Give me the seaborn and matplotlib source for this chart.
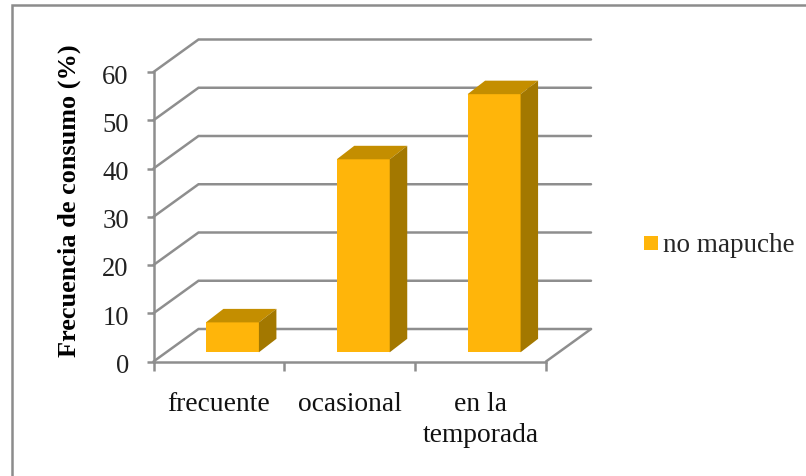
import matplotlib
matplotlib.use("Agg")
import matplotlib.pyplot as plt
from matplotlib.lines import Line2D
from matplotlib.patches import Polygon
from matplotlib.transforms import ScaledTranslation
import pandas as pd
import seaborn as sns

categories = ["frecuente", "ocasional", "en la\ntemporada"]
values = [6.2, 40.0, 53.5]
series_name = "no mapuche"
y_ticks = [0, 10, 20, 30, 40, 50, 60]
y_label = "Frecuencia de consumo (%)"

FRONT = "#FFB50A"
TOP = "#C48E00"
SIDE = "#A37800"
GRID = "#8E8E8E"
FRAME = "#8C8C8C"

W, H = 806, 476
sns.set_theme(style="white")
plt.rcParams["font.family"] = ["Liberation Serif", "DejaVu Serif"]

fig = plt.figure(figsize=(W / 100, H / 100), dpi=100, facecolor="white")
ax = fig.add_axes([153.5 / W, 1 - 361.5 / H, 392.5 / W, 289.5 / H])

df = pd.DataFrame({"categoria": categories, "frecuencia": values, "serie": series_name})
sns.barplot(
    data=df, x="categoria", y="frecuencia", hue="serie", palette=[FRONT],
    width=0.405, dodge=False, saturation=1, linewidth=0, ax=ax, zorder=5,
)
ax.set_xlim(-0.5, 2.5)
ax.set_ylim(0, 60)

# Depth of the floor and back wall, in data units
unit_x = 392.5 / 3
unit_y = 289.5 / 60
wall_dx = 45 / unit_x
wall_dy = 32.5 / unit_y

# Back wall gridlines with their receding segments
for t in y_ticks:
    ax.plot([-0.5, -0.5 + wall_dx, 2.5 + wall_dx], [t, t + wall_dy, t + wall_dy],
            color=GRID, lw=1.8, clip_on=False, zorder=1, solid_joinstyle="miter")
ax.plot([2.5, 2.5 + wall_dx], [0, wall_dy], color=GRID, lw=1.8, clip_on=False, zorder=1)

# Lift each bar off the front edge and add its top and side faces
offset_x = 13.5 / unit_x
offset_y = 9.2 / unit_y
bar_dx = 17.5 / unit_x
bar_dy = 13.5 / unit_y
for patch in ax.patches:
    patch.set_x(patch.get_x() + offset_x)
    patch.set_y(offset_y)
    patch.set_clip_on(False)
    x0 = patch.get_x()
    x1 = x0 + patch.get_width()
    y1 = offset_y + patch.get_height()
    ax.add_patch(Polygon([(x0, y1), (x1, y1), (x1 + bar_dx, y1 + bar_dy), (x0 + bar_dx, y1 + bar_dy)],
                         closed=True, facecolor=TOP, edgecolor="none", clip_on=False, zorder=5))
    ax.add_patch(Polygon([(x1, offset_y), (x1, y1), (x1 + bar_dx, y1 + bar_dy), (x1 + bar_dx, offset_y + bar_dy)],
                         closed=True, facecolor=SIDE, edgecolor="none", clip_on=False, zorder=5))

sns.despine(ax=ax, top=True, right=True)
for side in ("left", "bottom"):
    ax.spines[side].set_color(GRID)
    ax.spines[side].set_linewidth(1.8)

ax.set_xticks([-0.5, 0.5, 1.5, 2.5], labels=[])
ax.set_xticks([0, 1, 2], labels=categories, minor=True)
ax.set_yticks(y_ticks)
ax.tick_params(axis="x", which="major", length=6.5, width=1.8, color=GRID, bottom=True)
ax.tick_params(axis="x", which="minor", length=0, pad=22, labelsize=19.8, labelcolor="#111111")
ax.tick_params(axis="y", length=5, width=1.8, color=GRID, left=True, pad=12.8, labelsize=19.2, labelcolor="#222222")
for label in ax.get_xticklabels(minor=True):
    label.set_linespacing(1.3)

# Nudge the value labels down so they sit level with their ticks
nudge = ScaledTranslation(0, -2 / 100, fig.dpi_scale_trans)
for label in ax.get_yticklabels():
    label.set_transform(label.get_transform() + nudge)

ax.set_xlabel("")
ax.set_ylabel(y_label, fontsize=18.9, fontweight="bold", color="black")
ax.yaxis.set_label_coords(81 / W, 1 - 200.5 / H, transform=fig.transFigure)

# Legend on the right of the plot
sns.move_legend(
    ax, "center left", bbox_to_anchor=(644 / W, 1 - 246 / H),
    bbox_transform=fig.transFigure, title=None, frameon=False, fontsize=19.5,
    borderpad=0, borderaxespad=0, handlelength=0.5, handleheight=0.45, handletextpad=0.2,
)

# Chart frame, cut off by the right and bottom of the image
fig.add_artist(Line2D([11.5 / W, 11.5 / W, 1], [0, 1 - 4.5 / H, 1 - 4.5 / H],
                      color=FRAME, lw=1.8, solid_joinstyle="miter"))

fig.savefig("out.png", dpi=100)
